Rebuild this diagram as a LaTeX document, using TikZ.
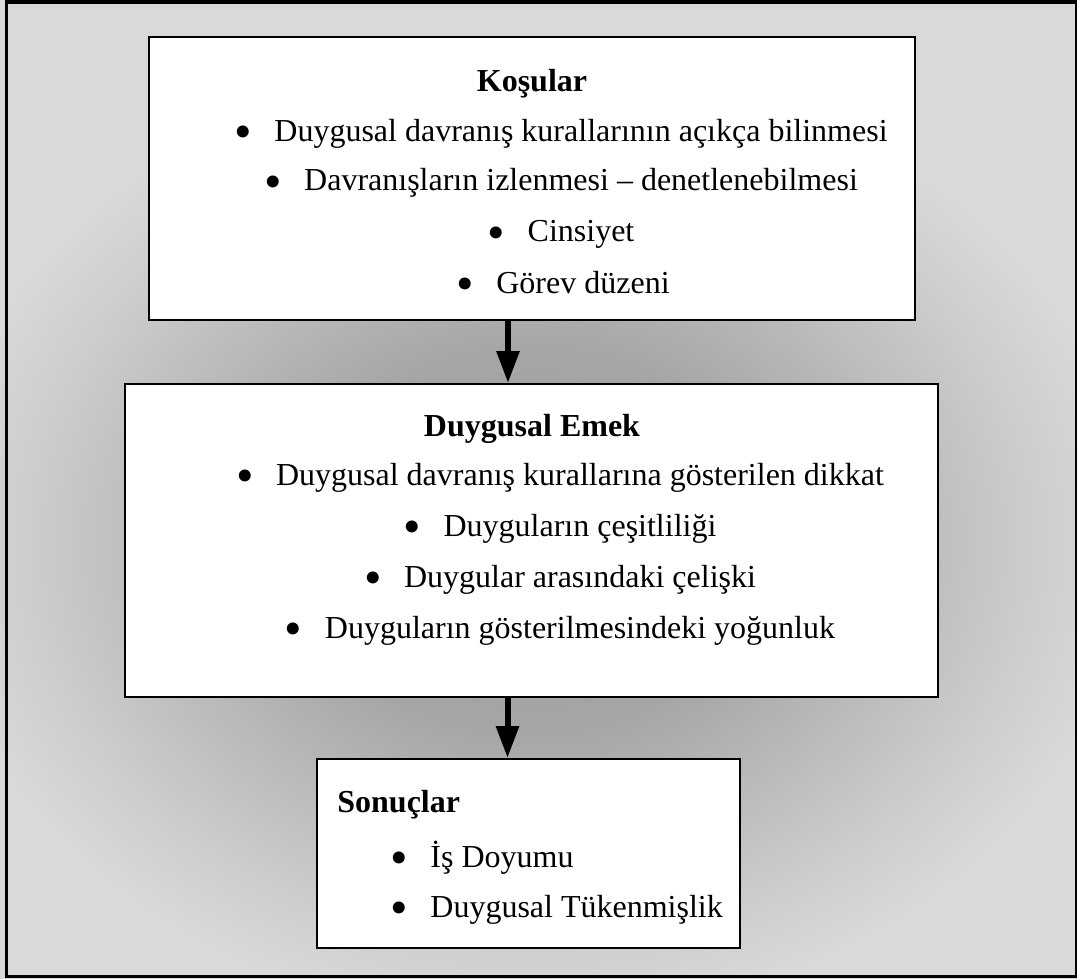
\documentclass[tikz,border=0pt]{standalone}
\usepackage{fontspec}
\setmainfont{Liberation Serif}
\usetikzlibrary{arrows.meta}

\definecolor{bglight}{HTML}{D9D9D9}
\definecolor{gdark}{HTML}{9A9A9A}
\definecolor{gmid}{HTML}{A6A6A6}
\definecolor{gpale}{HTML}{CDCDCD}
\pgfdeclareradialshading{glow}{\pgfpoint{0bp}{0bp}}{color(0bp)=(gdark); color(10bp)=(gmid); color(21bp)=(gpale); color(25bp)=(bglight); color(50bp)=(bglight)}

\tikzset{
  box/.style={draw, line width=1pt, fill=white, inner sep=0pt},
  boxtitle/.style={font=\bfseries\fontsize{16}{20}\selectfont, inner sep=0pt, anchor=base},
  bitem/.style={font=\fontsize{16}{20}\selectfont, inner sep=0pt, anchor=base},
  flow/.style={line width=3pt, -{Triangle[width=11pt,length=16pt]}}
}
\newcommand{\blt}{\makebox[20pt][l]{\raisebox{-3.6pt}{\fontsize{25}{25}\selectfont\textbullet}}}

\begin{document}
\begin{tikzpicture}[x=0.5pt,y=-0.5pt]
\useasboundingbox (0,0) rectangle (1077,979);

 \fill[bglight] (0,0) rectangle (1077,979);
 \shade[shading=glow] (530,540) ellipse (600 and 480);
 \draw[line width=1.75pt] (6.5,2) rectangle (1077,976.5);


\node[box, minimum width=383pt, minimum height=141.5pt] (kosul) at (532,178.5) {};
\node[box, minimum width=406.5pt, minimum height=156.5pt] (emek) at (531.5,540.5) {};
\node[box, minimum width=211.5pt, minimum height=94.5pt] (sonuc) at (528.5,853.5) {};



\node[boxtitle] (kosulT) at (532,92) {Koşular};
\node[bitem] (kosul1) at (561,141) {\blt Duygusal davranış kurallarının açıkça bilinmesi};
\node[bitem] (kosul2) at (561,191) {\blt Davranışların izlenmesi – denetlenebilmesi};
\node[bitem] (kosul3) at (561,242) {\blt Cinsiyet};
\node[bitem] (kosul4) at (563,293) {\blt Görev düzeni};



\node[boxtitle] (emekT) at (532,436) {Duygusal Emek};
\node[bitem] (emek1) at (560,485) {\blt Duygusal davranış kurallarına gösterilen dikkat};
\node[bitem] (emek2) at (560,536) {\blt Duyguların çeşitliliği};
\node[bitem] (emek3) at (560,587) {\blt Duygular arasındaki çelişki};
\node[bitem] (emek4) at (560,638) {\blt Duyguların gösterilmesindeki yoğunluk};



\node[boxtitle, anchor=base west] (sonucT) at (337,812) {Sonuçlar};
\node[bitem, anchor=base west] (sonuc1) at (390,867) {\blt İş Doyumu};
\node[bitem, anchor=base west] (sonuc2) at (390,917) {\blt Duygusal Tükenmişlik};




  \draw[flow] ([xshift=-12pt]kosul.south) -- ([xshift=-12pt]kosul.south |- emek.north);
  \draw[flow] ([xshift=-12pt]emek.south) -- ([xshift=-12pt]emek.south |- sonuc.north);
\end{tikzpicture}
\end{document}
